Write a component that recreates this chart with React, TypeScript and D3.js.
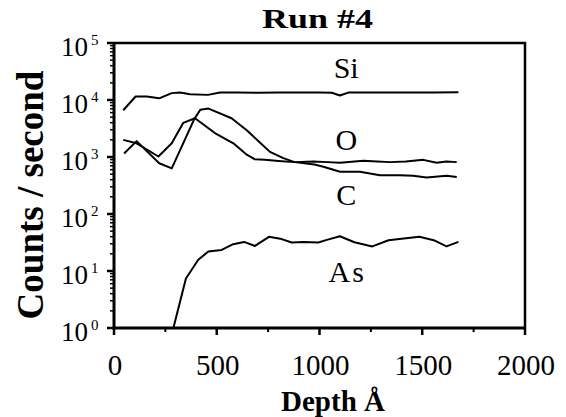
import React, { useEffect, useRef } from "react";
import * as d3 from "d3";

// depth (Å) and counts/second
const siDepth = [45, 105, 159, 220, 281, 321, 370, 457, 516, 600, 700, 800, 900, 1000, 1060, 1099, 1140, 1250, 1400, 1550, 1676];
const siCounts = [6600, 11500, 11500, 10700, 13200, 13500, 12600, 12300, 13500, 13500, 13400, 13500, 13500, 13500, 13400, 12000, 13500, 13600, 13600, 13600, 13650];

const oDepth = [45, 110, 216, 281, 337, 394, 491, 581, 646, 686, 735, 800, 879, 970, 1040, 1100, 1213, 1280, 1343, 1420, 1505, 1570, 1618, 1668];
const oCounts = [1995, 1740, 1020, 1740, 3980, 4790, 2630, 1740, 1100, 912, 891, 851, 813, 832, 813, 794, 861, 832, 813, 832, 891, 794, 832, 813];

const cDepth = [49, 110, 220, 281, 390, 420, 460, 572, 646, 711, 759, 824, 879, 975, 1019, 1100, 1197, 1294, 1390, 1456, 1521, 1618, 1668];
const cCounts = [1150, 1900, 776, 631, 4570, 6760, 7080, 4790, 2950, 1780, 1230, 955, 813, 741, 676, 550, 550, 479, 479, 468, 437, 468, 447];

const asDepth = [289, 350, 410, 459, 524, 580, 633, 686, 754, 816, 865, 921, 994, 1040, 1099, 1170, 1257, 1336, 1410, 1486, 1556, 1618, 1676];
const asCounts = [1.0, 7.4, 15.8, 21.9, 23.4, 29.5, 32.4, 27.5, 39.8, 36.3, 31.6, 32.4, 31.6, 35.5, 40.7, 32, 27, 34.7, 37, 39.8, 34.7, 27, 32.4];

const depthTicks = [0, 500, 1000, 1500, 2000];
const decadeExps = [0, 1, 2, 3, 4, 5];

type Pt = { d: number; v: number };
const zip = (ds: number[], vs: number[]): Pt[] => ds.map((d, i) => ({ d, v: vs[i] }));

const series = [
  { name: "Si", pts: zip(siDepth, siCounts) },
  { name: "O", pts: zip(oDepth, oCounts) },
  { name: "C", pts: zip(cDepth, cCounts) },
  { name: "As", pts: zip(asDepth, asCounts) },
];

const X0 = 114, X1 = 525, Y0 = 43, Y1 = 328;
const serif = "'Liberation Serif', 'Times New Roman', serif";

const App = () => {
  const ref = useRef<SVGGElement | null>(null);

  const x = d3.scaleLinear().domain([0, 2000]).range([X0, X1]);
  const y = d3.scaleLog().domain([1, 1e5]).range([Y1, Y0]);

  useEffect(() => {
    // data lines via d3
    const g = d3.select(ref.current);
    g.selectAll("*").remove();
    const line = d3.line<Pt>().x((p) => x(p.d)).y((p) => y(p.v));
    series.forEach((s) => {
      g.append("path").datum(s.pts)
        .attr("d", line)
        .attr("fill", "none").attr("stroke", "#000")
        .attr("stroke-width", 2).attr("stroke-linejoin", "round");
    });
  }, []);

  const minorY: number[] = [];
  for (let e = 0; e < 5; e++) for (let m = 2; m <= 9; m++) minorY.push(m * Math.pow(10, e));

  return (
    <svg width={566} height={417} style={{ position: "absolute", left: 0, top: 0, background: "#fff" }}>
      <defs>
        <clipPath id="plotclip">
          <rect x={X0} y={Y0 - 1} width={X1 - X0} height={Y1 - Y0 + 2} />
        </clipPath>
      </defs>
      <g ref={ref} clipPath="url(#plotclip)" />

      {/* frame */}
      <path d={`M${X0},${Y0}L${X1},${Y0}L${X1},${Y1}`} fill="none" stroke="#000" strokeWidth={2.5} />
      <path d={`M${X0},${Y0 - 1}L${X0},${Y1}L${X1 + 1},${Y1}`} fill="none" stroke="#000" strokeWidth={3} />

      {/* x ticks */}
      {d3.range(0, 2001, 250).map((t) => (
        <line key={t} x1={x(t)} x2={x(t)} y1={Y1} y2={Y1 + (t % 500 === 0 ? 7 : 4)}
          stroke="#000" strokeWidth={t % 500 === 0 ? 2.5 : 2} />
      ))}
      {/* y ticks */}
      {minorY.map((v) => (
        <line key={v} x1={X0 - 4} x2={X0} y1={y(v)} y2={y(v)} stroke="#000" strokeWidth={1.5} />
      ))}
      {decadeExps.map((e) => (
        <line key={"M" + e} x1={X0 - 7} x2={X0} y1={y(Math.pow(10, e))} y2={y(Math.pow(10, e))} stroke="#000" strokeWidth={2.5} />
      ))}

      {/* y tick labels */}
      {decadeExps.map((e) => (
        <g key={"L" + e} fontFamily={serif}>
          <text x={88} y={y(Math.pow(10, e)) + 13} textAnchor="end" fontSize={27}>10</text>
          <text x={91} y={y(Math.pow(10, e)) + 2} fontSize={15}>{e}</text>
        </g>
      ))}

      {/* x tick labels */}
      {depthTicks.map((t) => (
        <text key={"X" + t} x={x(t) + 1} y={375} textAnchor="middle" fontFamily={serif} fontSize={29}>{t}</text>
      ))}

      {/* series labels */}
      <g fontFamily={serif} fontSize={30} textAnchor="middle">
        <text x={x(1130)} y={y(Math.pow(10, 4.386))}>Si</text>
        <text x={x(1130)} y={y(Math.pow(10, 3.12))}>O</text>
        <text x={x(1130)} y={y(Math.pow(10, 2.16))}>C</text>
        <text x={x(1135)} y={y(Math.pow(10, 0.81))} letterSpacing={2}>As</text>
      </g>

      <text x={262} y={28} fontFamily={serif} fontWeight="bold" fontSize={27}
        textLength={111} lengthAdjust="spacingAndGlyphs">Run #4</text>
      <text x={333} y={411} textAnchor="middle" fontFamily={serif} fontWeight="bold" fontSize={29}>Depth Å</text>
      <text transform="translate(43,195) rotate(-90)" textAnchor="middle" fontFamily={serif}
        fontWeight="bold" fontSize={37}>Counts / second</text>
    </svg>
  );
};

export default App;
